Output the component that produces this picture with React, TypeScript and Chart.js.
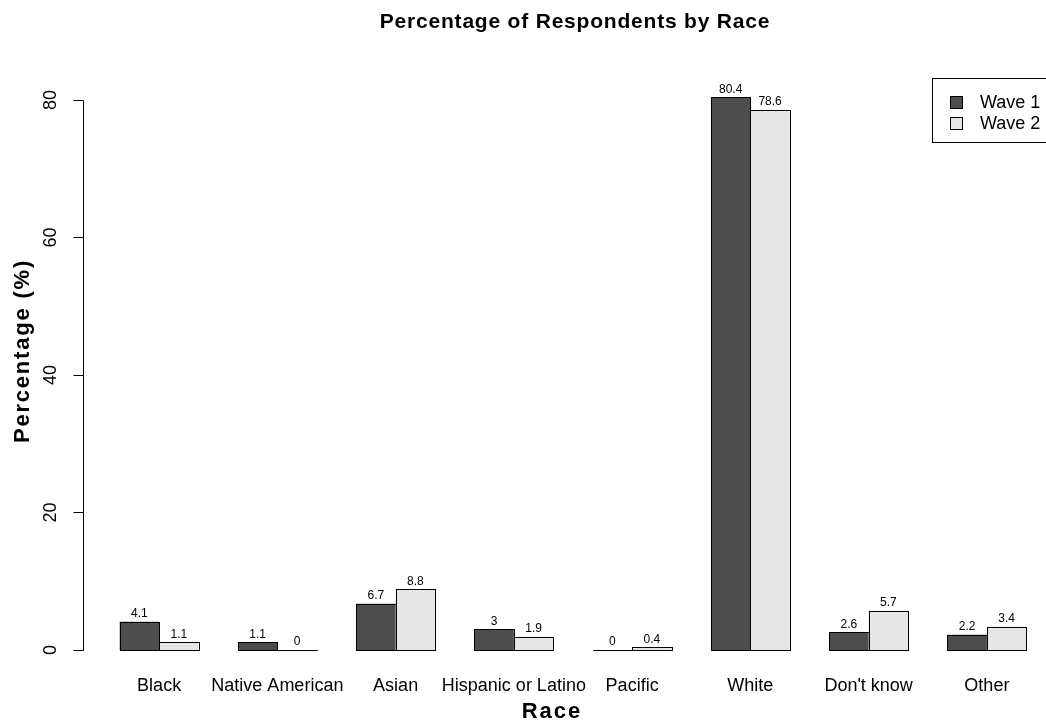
import React, { useEffect, useRef } from "react";
import { Chart, registerables } from "chart.js";

Chart.register(...registerables);

const categories = [
  "Black",
  "Native American",
  "Asian",
  "Hispanic or Latino",
  "Pacific",
  "White",
  "Don't know",
  "Other",
];
const wave1 = [4.1, 1.1, 6.7, 3, 0, 80.4, 2.6, 2.2];
const wave2 = [1.1, 0, 8.8, 1.9, 0.4, 78.6, 5.7, 3.4];
const yTicks = [0, 20, 40, 60, 80];
const seriesNames = ["Wave 1", "Wave 2"];
const seriesColors = ["#4d4d4d", "#e6e6e6"];
const titleText = "Percentage of Respondents by Race";
const xTitle = "Race";
const yTitle = "Percentage (%)";

const FONT = '"Liberation Sans", Arial, Helvetica, sans-serif';

const rDecor = {
  id: "rDecor",
  afterDatasetsDraw(chart: any) {
    const ctx = chart.ctx as CanvasRenderingContext2D;
    ctx.save();
    chart.data.datasets.forEach((ds: any, di: number) => {
      const meta = chart.getDatasetMeta(di);
      meta.data.forEach((bar: any, i: number) => {
        const p = bar.getProps(["x", "y", "base", "width"], true);
        const l = Math.round(p.x - p.width / 2) + 0.5;
        const r = Math.round(p.x + p.width / 2) + 0.5;
        const t = Math.round(p.y) + 0.5;
        const b = Math.round(p.base) + 0.5;
        ctx.strokeStyle = "#000";
        ctx.lineWidth = 1;
        ctx.strokeRect(l, t, r - l, b - t);
        ctx.fillStyle = "#000";
        ctx.font = `12px ${FONT}`;
        ctx.textAlign = "center";
        ctx.textBaseline = "alphabetic";
        ctx.fillText(String(ds.data[i]), p.x, p.y - 4.5);
      });
    });
    ctx.restore();
  },
  afterDraw(chart: any) {
    const ctx = chart.ctx as CanvasRenderingContext2D;
    const ys = chart.scales.y;
    const xs = chart.scales.x;
    ctx.save();
    ctx.fillStyle = "#000";
    ctx.strokeStyle = "#000";
    ctx.lineWidth = 1;

    // y axis (R style: line only across tick range)
    const axisX = 83.5;
    const yTop = Math.round(ys.getPixelForValue(yTicks[yTicks.length - 1])) + 0.5;
    const yBot = Math.round(ys.getPixelForValue(yTicks[0])) + 0.5;
    ctx.beginPath();
    ctx.moveTo(axisX, yTop);
    ctx.lineTo(axisX, yBot);
    yTicks.forEach((v) => {
      const py = Math.round(ys.getPixelForValue(v)) + 0.5;
      ctx.moveTo(axisX, py);
      ctx.lineTo(axisX - 10, py);
    });
    ctx.stroke();

    ctx.font = `18px ${FONT}`;
    ctx.textAlign = "center";
    ctx.textBaseline = "alphabetic";
    yTicks.forEach((v) => {
      const py = ys.getPixelForValue(v);
      ctx.save();
      ctx.translate(56, py);
      ctx.rotate(-Math.PI / 2);
      ctx.fillText(String(v), 0, 0);
      ctx.restore();
    });

    // y title
    ctx.save();
    (ctx as any).letterSpacing = "1.8px";
    ctx.font = `bold 22px ${FONT}`;
    ctx.translate(29, 351);
    ctx.rotate(-Math.PI / 2);
    ctx.fillText(yTitle, 0, 0);
    ctx.restore();

    // main title
    ctx.save();
    (ctx as any).letterSpacing = "0.8px";
    ctx.font = `bold 21px ${FONT}`;
    ctx.fillText(titleText, 575, 28);
    ctx.restore();

    // x title
    ctx.save();
    (ctx as any).letterSpacing = "2px";
    ctx.font = `bold 22px ${FONT}`;
    const cx = (xs.getPixelForValue(0) + xs.getPixelForValue(categories.length - 1)) / 2;
    ctx.fillText(xTitle, cx - 21, 718);
    ctx.restore();

    // legend
    ctx.strokeRect(932.5, 78.5, 150, 64);
    ctx.font = `18px ${FONT}`;
    ctx.textAlign = "left";
    seriesNames.forEach((name, i) => {
      const ry = 96.5 + i * 21;
      ctx.fillStyle = seriesColors[i];
      ctx.fillRect(950.5, ry, 12, 12);
      ctx.strokeRect(950.5, ry, 12, 12);
      ctx.fillStyle = "#000";
      ctx.fillText(name, 980, 108 + i * 21);
    });

    ctx.restore();
  },
};

export default function App() {
  const canvasRef = useRef<HTMLCanvasElement | null>(null);

  useEffect(() => {
    if (!canvasRef.current) return;
    const chart = new Chart(canvasRef.current, {
      type: "bar",
      data: {
        labels: categories,
        datasets: [
          {
            label: seriesNames[0],
            data: wave1,
            backgroundColor: seriesColors[0],
            borderWidth: 0,
            categoryPercentage: 2 / 3,
            barPercentage: 1,
          },
          {
            label: seriesNames[1],
            data: wave2,
            backgroundColor: seriesColors[1],
            borderWidth: 0,
            categoryPercentage: 2 / 3,
            barPercentage: 1,
          },
        ],
      },
      options: {
        responsive: false,
        animation: false,
        layout: { padding: { left: 100, right: 0, top: 75, bottom: 0 } },
        plugins: {
          legend: { display: false },
          title: { display: false },
          tooltip: { enabled: false },
        },
        scales: {
          x: {
            type: "category",
            offset: true,
            grid: { display: false, drawTicks: false, tickLength: 0 },
            border: { display: false },
            ticks: {
              autoSkip: false,
              maxRotation: 0,
              minRotation: 0,
              padding: 3,
              color: "#000",
              font: { family: FONT, size: 18 },
            },
            afterFit: (s: any) => {
              s.height = 53;
            },
          },
          y: {
            display: false,
            min: -3.216,
            max: 83.64,
          },
        },
      },
      plugins: [rDecor],
    } as any);
    return () => chart.destroy();
  }, []);

  return (
    <div
      style={{
        position: "fixed",
        left: 0,
        top: 0,
        width: 1046,
        height: 725,
        background: "#fff",
      }}
    >
      <canvas ref={canvasRef} width={1046} height={725} style={{ display: "block" }} />
    </div>
  );
}
